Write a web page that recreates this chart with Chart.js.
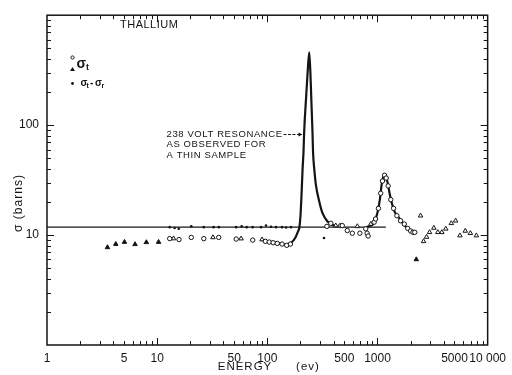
<!DOCTYPE html>
<html>
<head>
<meta charset="utf-8">
<script src="https://cdn.jsdelivr.net/npm/chart.js@4/dist/chart.umd.min.js"></script>
<style>
  html, body { margin: 0; padding: 0; background: #fff; }
  #wrap { width: 512px; height: 375px; position: relative; }
</style>
</head>
<body>
<div id="wrap"><canvas id="c" width="512" height="375"></canvas></div>
<script>
// Labelled ticks on each axis
const energyTicks = [1, 5, 10, 50, 100, 500, 1000, 5000, 10000];
const sigmaTicks = [10, 100];

// Total cross section, triangles (eV, barns)
const triEnergy = [3.54, 4.21, 5.05, 6.3, 7.98, 10.3, 14.1, 32.1, 57.8, 89.5, 418, 656, 870,
  2250, 2460, 2620, 2790, 2970, 3250, 3530, 3840, 4170, 4680, 5120, 5600, 6260, 6970, 7900];
const triSigma = [7.73, 8.28, 8.64, 8.24, 8.59, 8.64, 9.3, 9.52, 9.28, 9.1, 12.2, 12.0, 12.6,
  6.0, 15.0, 8.77, 9.6, 10.6, 11.6, 10.6, 10.6, 11.4, 12.8, 13.5, 9.9, 10.9, 10.4, 9.9];

// Total cross section, open circles (eV, barns)
const circEnergy = [13.0, 15.8, 20.4, 26.5, 36.2, 52.2, 73.7, 96, 104, 113, 123, 136, 150, 162,
  347, 377, 464, 479, 532, 591, 692, 782, 805, 822, 933,
  960, 1020, 1070, 1110, 1160, 1200, 1250, 1320, 1400, 1500, 1620, 1750, 1880, 2000, 2100, 2180];
const circSigma = [9.28, 9.1, 9.52, 9.28, 9.52, 9.2, 9.0, 8.77, 8.64, 8.52, 8.4, 8.28, 8.07, 8.28,
  12.0, 12.8, 12.2, 12.2, 11.0, 10.4, 10.4, 11.4, 10.4, 9.8, 13.1,
  14, 17.5, 24, 31, 35, 33, 28, 21, 17.5, 15, 13.5, 12.6, 11.5, 10.9, 10.6, 10.6];

// σt − σr, dots (eV, barns)
const dotEnergy = [13.0, 14.4, 15.7, 20.4, 26.5, 32.5, 36.3, 52.1, 58.5, 65.0, 73.6, 87.7, 97.3,
  108, 120, 136, 148, 164, 327];
const dotSigma = [11.8, 11.6, 11.4, 12.0, 11.8, 11.8, 11.8, 11.8, 12.0, 11.8, 11.8, 11.8, 12.2,
  11.9, 11.8, 11.8, 11.7, 11.8, 9.4];

// Constant potential-scattering level
const flatEnergy = [1, 1190];
const flatSigma = [11.8, 11.8];

// 238 eV resonance as seen with a thin sample
const res1Energy = [88, 100, 120, 140, 152, 165, 180, 190, 195, 200, 205, 209, 213, 216, 225, 233,
  240, 246, 252, 257, 260, 268, 276, 296, 317, 352, 390, 420];
const res1Sigma = [9.1, 8.8, 8.5, 8.2, 8.05, 8.5, 9.5, 10.8, 11.6, 15, 25, 40, 57, 87, 180, 320,
  460, 300, 150, 87, 57, 38, 28.6, 20.2, 15.8, 13.3, 12.4, 12.0];

// Resonance near 1.2 keV
const res2Energy = [780, 870, 933, 997, 1050, 1095, 1158, 1230, 1295, 1410, 1570, 1740, 1930, 2140];
const res2Sigma = [11.8, 12.2, 13.1, 15.8, 20.9, 29.5, 35.8, 30.6, 23.3, 16.9, 14.3, 12.4, 11.2, 10.6];

const pts = (xs, ys) => xs.map((x, i) => ({ x, y: ys[i] }));
const INK = '#141414';
const FONT = '"Liberation Sans", Arial, sans-serif';

// Frame with inward log ticks on all four sides
const frameTicks = {
  id: 'frameTicks',
  afterDatasetsDraw(chart) {
    const { ctx, chartArea: a, scales: { x, y } } = chart;
    ctx.save();
    ctx.strokeStyle = INK;
    ctx.lineWidth = 1.5;
    ctx.strokeRect(a.left, a.top, a.right - a.left, a.bottom - a.top);
    ctx.lineWidth = 1;
    ctx.beginPath();
    for (let d = 1; d < 10000; d *= 10) {
      for (let m = 1; m < 10; m++) {
        const v = d * m;
        const len = m === 1 ? 7 : 4;
        if (v > 1) {
          const px = Math.round(x.getPixelForValue(v)) + 0.5;
          ctx.moveTo(px, a.bottom); ctx.lineTo(px, a.bottom - len);
          ctx.moveTo(px, a.top); ctx.lineTo(px, a.top + len);
        }
        if (v > 1 && v < 1000) {
          const py = Math.round(y.getPixelForValue(v)) + 0.5;
          ctx.moveTo(a.left, py); ctx.lineTo(a.left + len, py);
          ctx.moveTo(a.right, py); ctx.lineTo(a.right - len, py);
        }
      }
    }
    ctx.stroke();
    ctx.restore();
  }
};

// Titles, key and the resonance annotation
const textLayer = {
  id: 'textLayer',
  afterDraw(chart) {
    const { ctx, scales: { x, y } } = chart;
    ctx.save();
    ctx.fillStyle = INK;
    ctx.strokeStyle = INK;
    ctx.textBaseline = 'middle';
    ctx.textAlign = 'left';

    ctx.font = '11px ' + FONT;
    ctx.letterSpacing = '0.5px';
    ctx.fillText('THALLIUM', 120, 25);

    // key
    ctx.letterSpacing = '0px';
    ctx.lineWidth = 1;
    ctx.beginPath(); ctx.arc(72.5, 57.5, 1.6, 0, Math.PI * 2); ctx.stroke();
    ctx.beginPath(); ctx.moveTo(72.5, 67); ctx.lineTo(75, 71); ctx.lineTo(70, 71); ctx.closePath(); ctx.fill();
    ctx.beginPath(); ctx.arc(72.5, 83.5, 1.4, 0, Math.PI * 2); ctx.fill();
    ctx.font = 'bold 14px ' + FONT;
    ctx.fillText('σ', 76.5, 64);
    ctx.font = 'bold 9px ' + FONT;
    ctx.fillText('t', 86, 67.5);
    ctx.font = 'bold 10px ' + FONT;
    ctx.fillText('σ', 80.5, 83.5);
    ctx.font = 'bold 7px ' + FONT;
    ctx.fillText('t', 86.5, 86);
    ctx.font = 'bold 10px ' + FONT;
    ctx.fillText('-', 90, 83.5);
    ctx.fillText('σ', 95, 83.5);
    ctx.font = 'bold 7px ' + FONT;
    ctx.fillText('r', 101.5, 86);

    // annotation pointing at the rising side of the 238 eV peak
    const tipX = x.getPixelForValue(213) - 1;
    const tipY = y.getPixelForValue(83);
    ctx.font = '9.5px ' + FONT;
    ctx.letterSpacing = '0.6px';
    const tx = tipX - 136;
    ctx.fillText('238 VOLT RESONANCE', tx, tipY);
    ctx.fillText('AS OBSERVED FOR', tx, tipY + 10.7);
    ctx.fillText('A THIN SAMPLE', tx, tipY + 21.4);
    ctx.setLineDash([3, 1.5]);
    ctx.beginPath(); ctx.moveTo(tipX - 19, tipY + 0.5); ctx.lineTo(tipX - 3, tipY + 0.5); ctx.stroke();
    ctx.setLineDash([]);
    ctx.beginPath(); ctx.moveTo(tipX, tipY + 0.5); ctx.lineTo(tipX - 4, tipY - 1.5); ctx.lineTo(tipX - 4, tipY + 2.5); ctx.closePath(); ctx.fill();

    // axis titles
    ctx.textAlign = 'center';
    ctx.font = '11.5px ' + FONT;
    ctx.letterSpacing = '1px';
    ctx.fillText('ENERGY', 245, 367);
    ctx.fillText('(ev)', 308, 367);
    ctx.translate(19, 203);
    ctx.rotate(-Math.PI / 2);
    ctx.font = '12px ' + FONT;
    ctx.fillText('σ (barns)', 0, 0);
    ctx.restore();
  }
};

const tickFont = { family: FONT, size: 12 };

new Chart(document.getElementById('c'), {
  type: 'scatter',
  data: {
    datasets: [
      { label: 'σt', data: pts(circEnergy, circSigma), pointStyle: 'circle', pointRadius: 2.2,
        borderWidth: 1, borderColor: INK, backgroundColor: '#fff' },
      { label: 'σt', data: pts(triEnergy, triSigma), pointStyle: 'triangle', pointRadius: 2.6,
        borderWidth: 1, borderColor: INK,
        backgroundColor: c => (c.raw && (c.raw.x < 12 || c.raw.y < 7)) ? INK : '#fff' },
      { label: 'σt-σr', data: pts(dotEnergy, dotSigma), pointStyle: 'circle', pointRadius: 1.3,
        borderWidth: 0, backgroundColor: INK },
      { data: pts(res1Energy, res1Sigma), showLine: true, pointRadius: 0, borderColor: INK,
        borderWidth: 2.2, cubicInterpolationMode: 'monotone' },
      { data: pts(res2Energy, res2Sigma), showLine: true, pointRadius: 0, borderColor: INK,
        borderWidth: 2.2, cubicInterpolationMode: 'monotone' },
      { data: pts(flatEnergy, flatSigma), showLine: true, pointRadius: 0, borderColor: INK,
        borderWidth: 1.4 }
    ]
  },
  options: {
    responsive: false,
    animation: false,
    devicePixelRatio: 1,
    layout: { padding: { left: 0, right: 23, top: 13, bottom: 0 } },
    plugins: { legend: { display: false }, tooltip: { enabled: false } },
    scales: {
      x: {
        type: 'logarithmic', min: 1, max: 10000,
        afterFit(s) { s.height = 30; },
        afterBuildTicks(s) { s.ticks = energyTicks.map(v => ({ value: v })); },
        ticks: { autoSkip: false, maxRotation: 0, minRotation: 0, padding: 6, font: tickFont, color: INK,
          callback: v => v === 10000 ? '10 000' : String(v) },
        grid: { display: false, drawTicks: false },
        border: { display: false }
      },
      y: {
        type: 'logarithmic', min: 1, max: 1000,
        afterFit(s) { s.width = 47; },
        afterBuildTicks(s) { s.ticks = sigmaTicks.map(v => ({ value: v })); },
        ticks: { autoSkip: false, padding: 8, font: tickFont, color: INK, callback: v => String(v) },
        grid: { display: false, drawTicks: false },
        border: { display: false }
      }
    }
  },
  plugins: [frameTicks, textLayer]
});
</script>
</body>
</html>
